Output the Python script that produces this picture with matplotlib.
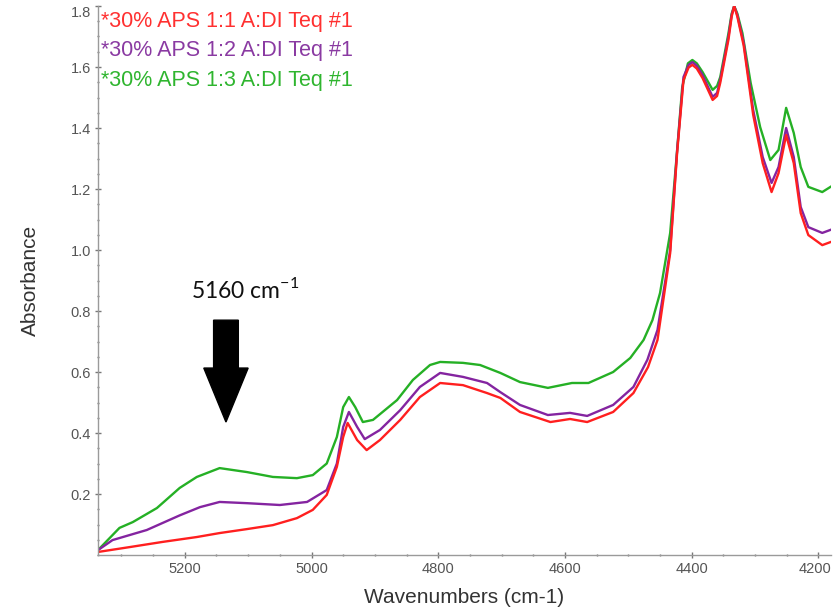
"""FTIR absorbance spectra of the three APS samples"""

import matplotlib

matplotlib.use("Agg")
import matplotlib.pyplot as plt
from matplotlib.ticker import MultipleLocator
from matplotlib.transforms import ScaledTranslation

# wavenumbers (cm-1) and absorbance
wn_red = [5337, 5287, 5235, 5181, 5145, 5102, 5061, 5023, 4998, 4976, 4960, 4950,
          4943, 4928, 4913, 4892, 4860, 4829, 4797, 4761, 4723, 4702, 4671, 4623,
          4592, 4565, 4524, 4492, 4469, 4454, 4434, 4423, 4413, 4405, 4399, 4392,
          4383, 4367, 4360, 4355, 4342, 4337, 4333, 4328, 4318, 4303, 4288, 4274,
          4263, 4251, 4239, 4228, 4216, 4194, 4181]
abs_red = [0.010, 0.026, 0.043, 0.059, 0.072, 0.085, 0.098, 0.121, 0.148, 0.197,
           0.289, 0.387, 0.433, 0.377, 0.344, 0.377, 0.443, 0.518, 0.564, 0.557,
           0.531, 0.515, 0.469, 0.436, 0.446, 0.436, 0.469, 0.531, 0.616, 0.705,
           0.990, 1.320, 1.557, 1.598, 1.607, 1.595, 1.564, 1.492, 1.505, 1.548,
           1.690, 1.765, 1.800, 1.765, 1.670, 1.443, 1.285, 1.190, 1.252, 1.377,
           1.285, 1.121, 1.049, 1.016, 1.026]

wn_purple = [5337, 5314, 5260, 5208, 5176, 5145, 5102, 5050, 5007, 4976, 4960,
             4950, 4941, 4928, 4916, 4892, 4860, 4829, 4797, 4761, 4723, 4702,
             4671, 4627, 4592, 4565, 4524, 4492, 4470, 4454, 4434, 4423, 4413,
             4405, 4399, 4392, 4383, 4367, 4360, 4355, 4342, 4337, 4333, 4328,
             4318, 4303, 4288, 4274, 4263, 4251, 4239, 4228, 4216, 4194, 4181]
abs_purple = [0.016, 0.049, 0.082, 0.130, 0.157, 0.174, 0.170, 0.164, 0.174, 0.213,
              0.300, 0.420, 0.469, 0.420, 0.380, 0.410, 0.475, 0.551, 0.597, 0.584,
              0.564, 0.534, 0.492, 0.459, 0.466, 0.456, 0.492, 0.551, 0.640, 0.738,
              1.000, 1.328, 1.567, 1.607, 1.616, 1.604, 1.574, 1.502, 1.515, 1.557,
              1.700, 1.770, 1.800, 1.770, 1.679, 1.459, 1.305, 1.220, 1.272, 1.400,
              1.305, 1.141, 1.075, 1.056, 1.066]

wn_green = [5337, 5303, 5282, 5244, 5208, 5181, 5145, 5102, 5061, 5023, 4998,
            4976, 4960, 4950, 4941, 4931, 4919, 4903, 4865, 4840, 4813, 4797,
            4761, 4734, 4702, 4671, 4627, 4589, 4563, 4524, 4497, 4476, 4462,
            4450, 4434, 4423, 4415, 4406, 4399, 4392, 4383, 4367, 4360, 4355,
            4342, 4337, 4333, 4328, 4320, 4307, 4292, 4276, 4263, 4251, 4239,
            4228, 4216, 4194, 4181]
abs_green = [0.016, 0.089, 0.108, 0.154, 0.220, 0.256, 0.285, 0.272, 0.256, 0.252,
             0.262, 0.300, 0.387, 0.485, 0.518, 0.485, 0.436, 0.443, 0.508, 0.574,
             0.623, 0.633, 0.630, 0.623, 0.597, 0.567, 0.548, 0.564, 0.564, 0.600,
             0.646, 0.705, 0.770, 0.859, 1.056, 1.328, 1.534, 1.612, 1.623, 1.612,
             1.584, 1.525, 1.538, 1.567, 1.711, 1.775, 1.800, 1.775, 1.711, 1.548,
             1.403, 1.295, 1.328, 1.466, 1.384, 1.272, 1.207, 1.190, 1.207]

labels = ["*30% APS 1:1 A:DI Teq #1",
          "*30% APS 1:2 A:DI Teq #1",
          "*30% APS 1:3 A:DI Teq #1"]
line_colors = ["#ff1f1f", "#8424a0", "#25b025"]
text_colors = ["#ff3030", "#8a3aa2", "#2fb52f"]

peak_label = "5160 cm$^{\\mathregular{-1}}$"
arrow_x = 5135
arrow_top = 0.77
arrow_tip = 0.436

plt.rcParams["font.family"] = ["Liberation Sans", "DejaVu Sans"]

fig = plt.figure(figsize=(8.33, 6.12), dpi=100)
ax = fig.add_axes([0.1176, 0.0931, 0.8794, 0.8971])

# draw green first so red ends up on top, like the original
series = [(wn_red, abs_red), (wn_purple, abs_purple), (wn_green, abs_green)]
for (wn, ab), col in reversed(list(zip(series, line_colors))):
    ax.plot(wn, ab, color=col, lw=1.7, solid_joinstyle="round")

ax.set_xlim(5337, 4181)
ax.set_ylim(0, 1.8)

ax.xaxis.set_minor_locator(MultipleLocator(50))
ax.yaxis.set_minor_locator(MultipleLocator(0.05))
ax.set_yticks([0.2, 0.4, 0.6, 0.8, 1.0, 1.2, 1.4, 1.6, 1.8])
ax.set_yticklabels(["0.2", "0.4", "0.6", "0.8", "1.0", "1.2", "1.4", "1.6", "1.8"])
ax.set_xticks([5200, 5000, 4800, 4600, 4400, 4200])
ax.set_xticklabels(["5200", "5000", "4800", "4600", "4400", "4200"])

ax.spines["top"].set_visible(False)
ax.spines["right"].set_visible(False)
for side in ["left", "bottom"]:
    ax.spines[side].set_color("#9a9a9a")
    ax.spines[side].set_linewidth(1.0)

ax.tick_params(which="major", direction="inout", length=4, width=1,
               color="#777777", labelcolor="#555555", labelsize=10.5, pad=3)
ax.tick_params(which="minor", direction="inout", length=2, width=1,
               color="#777777")
ax.get_yticklabels()[-1].set_verticalalignment("top")
# nudge the last x label so it stays inside the figure
last = ax.get_xticklabels()[-1]
last.set_transform(last.get_transform()
                   + ScaledTranslation(-3 / 100, 0, fig.dpi_scale_trans))

ax.set_xlabel("Wavenumbers (cm-1)", fontsize=15, color="#333333", labelpad=9)
ax.set_ylabel("Absorbance", fontsize=15, color="#333333", labelpad=22)

# sample names in the top left corner
for i, (lab, col) in enumerate(zip(labels, text_colors)):
    ax.text(0.004, 0.972 - i * 0.0535, lab, transform=ax.transAxes,
            color=col, fontsize=15.5, va="center", ha="left")

# arrow marking the 5160 band
ax.arrow(arrow_x, arrow_top, 0, arrow_tip - arrow_top, width=39,
         head_width=70, head_length=0.177, length_includes_head=True,
         color="black", zorder=5)
ax.text(5104, 0.869, peak_label, fontsize=16.5, ha="center", va="center",
        family=["Lato", "DejaVu Sans"], color="#111111")

fig.savefig("out.png", dpi=100)
